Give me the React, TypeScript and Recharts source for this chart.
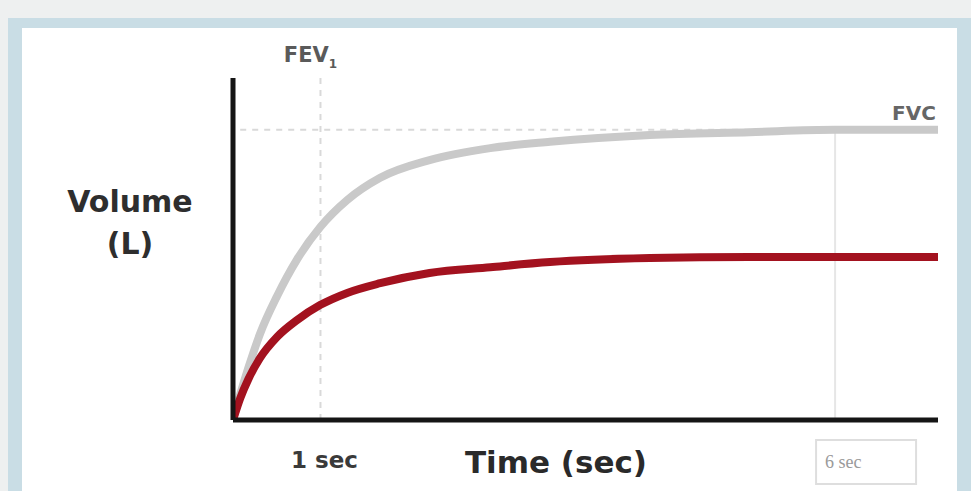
import { Label, LabelList, Line, LineChart, ReferenceLine, XAxis, YAxis } from "recharts";

// time (s) and volume (L)
const timeSec = [0.15, 0.22, 0.3, 0.41, 0.58, 0.77, 1.0, 1.26, 1.58, 2.06, 2.65, 3.23, 4.2, 5.17, 6.0, 7.0];
const normalVol = [0, 0.45, 0.92, 1.5, 2.18, 2.81, 3.39, 3.86, 4.25, 4.56, 4.77, 4.88, 5.0, 5.05, 5.09, 5.09];
const obstructedVol = [0, 0.38, 0.72, 1.08, 1.46, 1.75, 2.02, 2.23, 2.4, 2.58, 2.68, 2.77, 2.84, 2.86, 2.86, 2.86];
const fvcLevel = 5.09;
const tickSec = [1, 6];
const tickText: Record<number, string> = { 1: "1 sec", 6: "6 sec" };

const rows = timeSec.map((t, i) => ({ t, normal: normalVol[i], obstructed: obstructedVol[i] }));

const BOLD = "'DejaVu Sans', sans-serif";

function TimeTick({ x, y, payload }: any) {
  const v = payload.value;
  if (v === 6) {
    return (
      <g>
        <rect x={x - 19} y={y + 12} width={100} height={44} fill="#fff" stroke="#dedede" strokeWidth={2} />
        <text x={x - 10} y={y + 40} fontFamily="'Liberation Serif', serif" fontSize={18} fill="#9a9a9a">
          {tickText[v]}
        </text>
      </g>
    );
  }
  return (
    <text x={x + 4} y={y + 40} textAnchor="middle" fontFamily={BOLD} fontWeight={700} fontSize={23} fill="#3a3a3a">
      {tickText[v]}
    </text>
  );
}

function VolumeLabel({ viewBox }: any) {
  const cx = viewBox.x - 43;
  return (
    <text textAnchor="middle" fontFamily={BOLD} fontWeight={700} fontSize={30} fill="#2e2e2e">
      <tspan x={cx} y={212}>Volume</tspan>
      <tspan x={cx} y={254}>(L)</tspan>
    </text>
  );
}

function TimeLabel({ viewBox }: any) {
  return (
    <text x={viewBox.x + 323} y={viewBox.y + 53} textAnchor="middle" fontFamily={BOLD} fontWeight={700} fontSize={31} fill="#2a2a2a">
      Time (sec)
    </text>
  );
}

function FevLabel({ viewBox }: any) {
  return (
    <text x={viewBox.x - 10} y={62} textAnchor="middle" fontFamily={BOLD} fontWeight={700} fontSize={21} fill="#5a5a5a">
      FEV
      <tspan fontSize={12} dy={6}>1</tspan>
    </text>
  );
}

function FvcLabel({ x, y, index }: any) {
  if (index !== timeSec.length - 1) return null;
  return (
    <text x={x - 24} y={y - 10} textAnchor="middle" fontFamily={BOLD} fontWeight={700} fontSize={20} fill="#666">
      FVC
    </text>
  );
}

export default function App() {
  return (
    <div style={{ position: "absolute", left: 0, top: 0, width: 971, height: 491, background: "#eef0f0", overflow: "hidden" }}>
      <div style={{ position: "absolute", left: 8, top: 18, width: 963, height: 473, background: "#c9dde5" }} />
      <div style={{ position: "absolute", left: 22, top: 28, width: 935, height: 463, background: "#ffffff" }} />
      <div style={{ position: "absolute", left: 0, top: 0 }}>
        <LineChart width={971} height={491} data={rows} margin={{ top: 78, right: 33, bottom: 31, left: 173 }}>
          <XAxis
            type="number"
            dataKey="t"
            domain={[0.15, 7]}
            ticks={tickSec}
            height={40}
            tickLine={false}
            tick={<TimeTick />}
            axisLine={{ stroke: "#151515", strokeWidth: 5 }}
            allowDataOverflow
          >
            <Label content={<TimeLabel />} />
          </XAxis>
          <YAxis
            type="number"
            domain={[0, 6]}
            width={60}
            tick={false}
            tickLine={false}
            axisLine={{ stroke: "#151515", strokeWidth: 5 }}
          >
            <Label content={<VolumeLabel />} />
          </YAxis>
          <ReferenceLine x={1} stroke="#d9d9d9" strokeWidth={2} strokeDasharray="6 6">
            <Label content={<FevLabel />} />
          </ReferenceLine>
          <ReferenceLine
            segment={[{ x: 0.22, y: fvcLevel }, { x: 6, y: fvcLevel }]}
            stroke="#d9d9d9"
            strokeWidth={2}
            strokeDasharray="6 6"
          />
          <ReferenceLine segment={[{ x: 6, y: 0 }, { x: 6, y: fvcLevel }]} stroke="#e6e6e6" strokeWidth={2} />
          <Line
            dataKey="normal"
            type="monotone"
            stroke="#c9c9c9"
            strokeWidth={8}
            dot={false}
            isAnimationActive={false}
          >
            <LabelList dataKey="normal" content={<FvcLabel />} />
          </Line>
          <Line
            dataKey="obstructed"
            type="monotone"
            stroke="#a3121f"
            strokeWidth={8}
            dot={false}
            isAnimationActive={false}
          />
        </LineChart>
      </div>
    </div>
  );
}
